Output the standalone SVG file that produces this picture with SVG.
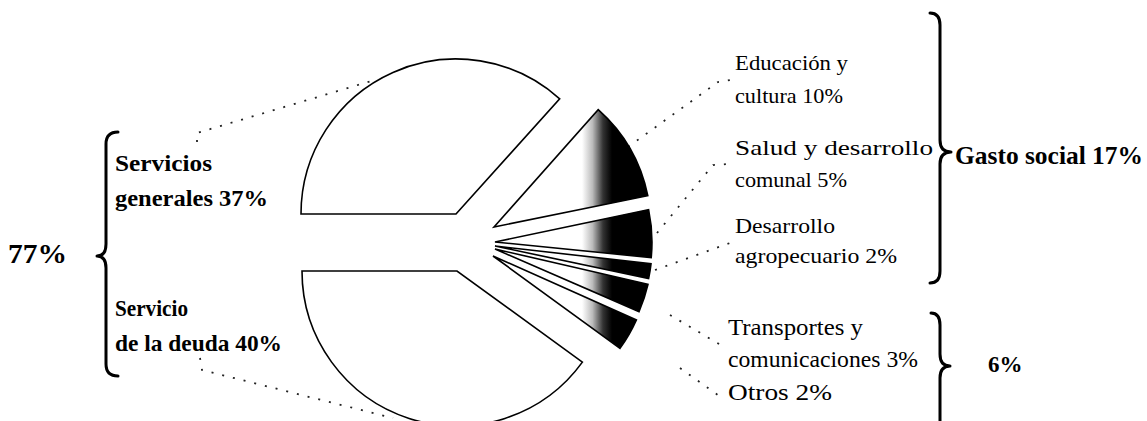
<svg xmlns="http://www.w3.org/2000/svg" width="1147" height="421" viewBox="0 0 1147 421">
<defs>
<linearGradient id="shade" gradientUnits="userSpaceOnUse" x1="582" y1="0" x2="612" y2="0">
<stop offset="0" stop-color="#fff"/>
<stop offset="0.35" stop-color="#bbb"/>
<stop offset="0.7" stop-color="#333"/>
<stop offset="1" stop-color="#000"/>
</linearGradient>
</defs>
<style>
.big{fill:#fff;stroke:#000;stroke-width:1.6;stroke-linejoin:miter}
.small{fill:url(#shade);stroke:#000;stroke-width:1.6;stroke-linejoin:miter}
.brace{fill:none;stroke:#000;stroke-width:3;stroke-linecap:round;stroke-linejoin:round}
.lead{fill:none;stroke:#222;stroke-width:1.8;stroke-dasharray:2 9}
.bl{font-family:"Liberation Serif","Times New Roman",serif;font-weight:bold;fill:#000}
.rl{font-family:"Liberation Serif","Times New Roman",serif;fill:#000}
</style>
<rect width="1147" height="421" fill="#fff"/>

<g id="connectors">
<polyline class="lead" points="197,142 197,133 378,79"/>
<polyline class="lead" points="200,358 202,370 393,418"/>
<polyline class="lead" points="628,147 718,82 730,80"/>
<polyline class="lead" points="657,233 713,165 728,164"/>
<polyline class="lead" points="655,270 730,243"/>
<polyline class="lead" points="670,315 724,347"/>
<polyline class="lead" points="680,368 722,398"/>
</g>

<g id="slice-servicios-generales">
<path class="big" d="M456,214 L301,214 A155,155 0 0 1 559.7,98.8 Z"/>
</g>
<g id="slice-servicio-deuda">
<path class="big" d="M457,271 L302,271 A155,155 0 0 0 582.4,362.1 Z"/>
</g>
<g id="slice-educacion">
<path class="small" d="M494,227 L598.2,109.6 A157,157 0 0 1 647.8,195.7 Z"/>
</g>
<g id="slice-salud">
<path class="small" d="M495,242 L648.6,209.6 A157,157 0 0 1 651.2,257.6 Z"/>
</g>
<g id="slice-agropecuario">
<path class="small" d="M495,246 L651,263.8 A157,157 0 0 1 648.6,278.6 Z"/>
</g>
<g id="slice-transportes">
<path class="small" d="M495,249 L648,284.3 A157,157 0 0 1 639,311.6 Z"/>
</g>
<g id="slice-otros">
<path class="small" d="M493,256 L636.4,319.9 A157,157 0 0 1 620,348.3 Z"/>
</g>

<g id="brace-77">
<path class="brace" d="M118,132 Q106,132 106,144 L106,244 Q106,256 97,256 Q106,256 106,268 L106,364 Q106,376 118,376"/>
<text class="bl" x="8" y="263" font-size="28" textLength="59" lengthAdjust="spacingAndGlyphs">77%</text>
</g>

<g id="label-servicios-generales">
<text class="bl" x="115" y="171" font-size="24" textLength="97" lengthAdjust="spacingAndGlyphs">Servicios</text>
<text class="bl" x="115" y="206" font-size="24" textLength="153" lengthAdjust="spacingAndGlyphs">generales  37%</text>
</g>
<g id="label-servicio-deuda">
<text class="bl" x="115" y="316" font-size="24" textLength="73" lengthAdjust="spacingAndGlyphs">Servicio</text>
<text class="bl" x="115" y="351" font-size="24" textLength="167" lengthAdjust="spacingAndGlyphs">de la deuda  40%</text>
</g>

<g id="label-educacion">
<text class="rl" x="735" y="70" font-size="22" textLength="113" lengthAdjust="spacingAndGlyphs">Educación y</text>
<text class="rl" x="735" y="103" font-size="22" textLength="108" lengthAdjust="spacingAndGlyphs">cultura  10%</text>
</g>
<g id="label-salud">
<text class="rl" x="735" y="155" font-size="22" textLength="198" lengthAdjust="spacingAndGlyphs">Salud y desarrollo</text>
<text class="rl" x="735" y="187" font-size="22" textLength="112" lengthAdjust="spacingAndGlyphs">comunal  5%</text>
</g>
<g id="label-agropecuario">
<text class="rl" x="735" y="233" font-size="22" textLength="100" lengthAdjust="spacingAndGlyphs">Desarrollo</text>
<text class="rl" x="735" y="263" font-size="22" textLength="162" lengthAdjust="spacingAndGlyphs">agropecuario  2%</text>
</g>

<g id="brace-gasto-social">
<path class="brace" d="M930,13 Q940,13 940,25 L940,140 Q940,152 951,152 Q940,152 940,164 L940,271 Q940,283 930,283"/>
<text class="bl" x="955" y="164" font-size="26" textLength="188" lengthAdjust="spacingAndGlyphs">Gasto social  17%</text>
</g>

<g id="label-transportes">
<text class="rl" x="728" y="335" font-size="23" textLength="135" lengthAdjust="spacingAndGlyphs">Transportes y</text>
<text class="rl" x="728" y="367" font-size="23" textLength="190" lengthAdjust="spacingAndGlyphs">comunicaciones  3%</text>
</g>
<g id="label-otros">
<text class="rl" x="728" y="400" font-size="23" textLength="104" lengthAdjust="spacingAndGlyphs">Otros  2%</text>
</g>

<g id="brace-6">
<path class="brace" d="M931,313 Q940,313 940,325 L940,354 Q940,366 950,366 Q940,366 940,378 L940,430"/>
<text class="bl" x="988" y="372" font-size="23">6%</text>
</g>
</svg>
